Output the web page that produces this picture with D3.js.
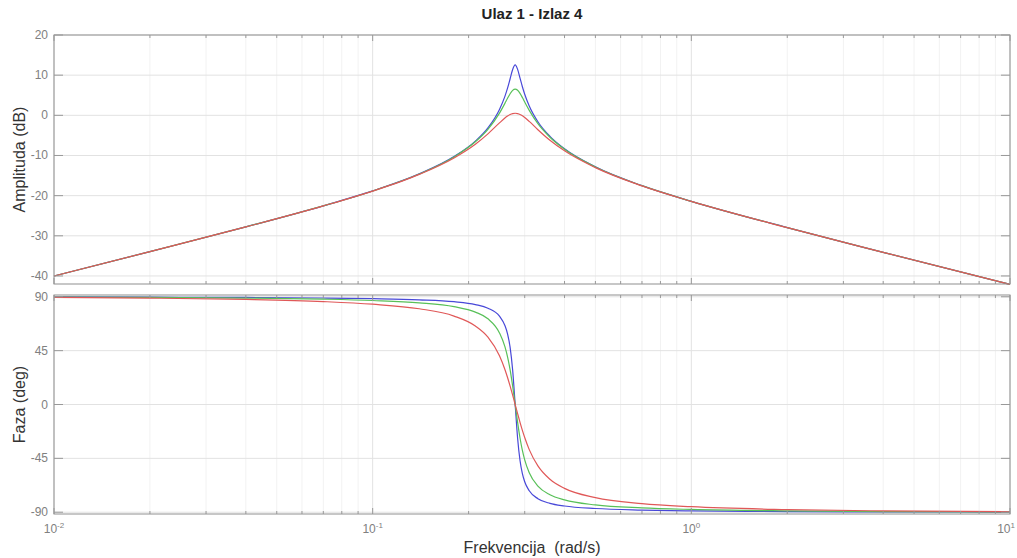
<!DOCTYPE html>
<html>
<head>
<meta charset="utf-8">
<script src="https://cdn.jsdelivr.net/npm/d3@7"></script>
<style>
  body { margin: 0; background: #fff; }
  text { font-family: "Liberation Sans", Arial, sans-serif; }
</style>
</head>
<body>
<div id="chart"></div>
<script>
// frequencies (rad/s)
const freq = [0.01, 0.02, 0.04, 0.07, 0.1, 0.14, 0.18, 0.21, 0.23, 0.25, 0.26, 0.265, 0.27, 0.275, 0.28,
  0.285, 0.29, 0.295, 0.3, 0.31, 0.33, 0.36, 0.4, 0.5, 0.7, 1, 2, 4, 10];

// amplitude (dB)
const magBlue = [-40.0, -33.94, -27.78, -22.54, -18.82, -14.58, -10.28, -6.43, -3.13, 1.47, 4.73, 6.77, 9.10, 11.42, 12.54,
  11.45, 9.27, 7.11, 5.25, 2.32, -1.60, -5.24, -8.34, -12.84, -17.51, -21.41, -27.96, -34.11, -42.11];
const magGreen = [-40.0, -33.94, -27.78, -22.55, -18.83, -14.61, -10.35, -6.59, -3.47, 0.55, 2.98, 4.23, 5.38, 6.22, 6.53,
  6.23, 5.45, 4.42, 3.32, 1.24, -2.07, -5.45, -8.45, -12.87, -17.52, -21.41, -27.96, -34.11, -42.11];
const magRed = [-40.0, -33.94, -27.79, -22.56, -18.87, -14.71, -10.61, -7.19, -4.61, -1.89, -0.68, -0.19, 0.20, 0.43, 0.51,
  0.43, 0.22, -0.12, -0.54, -1.52, -3.58, -6.21, -8.84, -13.02, -17.57, -21.43, -27.97, -34.11, -42.11];

// phase (deg)
const phBlue = [89.9, 89.7, 89.45, 89.0, 88.45, 87.5, 85.9, 83.5, 80.5, 73.8, 66.0, 59.1, 47.8, 28.6, 0,
  -28.2, -46.8, -57.7, -64.5, -72.1, -78.7, -82.6, -84.8, -86.9, -88.2, -88.9, -89.5, -89.7, -89.9];
const phGreen = [89.7, 89.5, 88.9, 88.0, 86.9, 85.0, 81.8, 77.2, 71.6, 59.8, 48.3, 39.8, 28.9, 15.3, 0,
  -15.0, -28.0, -38.4, -46.3, -57.1, -68.2, -75.4, -79.7, -83.9, -86.4, -87.7, -88.9, -89.5, -89.8];
const phRed = [89.5, 88.9, 87.8, 86.0, 83.8, 80.0, 73.9, 65.6, 56.3, 40.7, 29.3, 22.6, 15.4, 7.8, 0,
  -7.6, -14.9, -21.6, -27.6, -37.7, -51.3, -62.5, -70.1, -77.8, -82.8, -85.4, -87.8, -88.9, -89.6];

const magTicks = [20, 10, 0, -10, -20, -30, -40];
const phTicks = [90, 45, 0, -45, -90];
const decades = [-2, -1, 0, 1];

const colors = {blue: "#4848d8", green: "#58c058", red: "#e05858"};

const W = 1017, H = 558;
const left = 54, right = 1010;
const top1 = 35, bot1 = 284, top2 = 295, bot2 = 514;

const svg = d3.select("#chart").append("svg").attr("width", W).attr("height", H);

const x = d3.scaleLog().domain([0.01, 10]).range([left, right]);
const y1 = d3.scaleLinear().domain([-42, 20]).range([bot1, top1]);
const y2 = d3.scaleLinear().domain([-91.5, 91.5]).range([bot2, top2]);

// minor log ticks
let minor = [];
decades.slice(0, 3).forEach(e => {
  for (let k = 2; k <= 9; k++) minor.push(k * Math.pow(10, e));
});
const majors = decades.map(e => Math.pow(10, e));

function panel(y, yTicks, t, b, series, label) {
  const g = svg.append("g");
  // minor grid
  g.selectAll(".mg").data(minor).enter().append("line")
    .attr("x1", d => x(d)).attr("x2", d => x(d)).attr("y1", t).attr("y2", b)
    .style("stroke", "#f2f2f2").style("stroke-width", 1);
  // major grid
  g.selectAll(".vg").data(majors).enter().append("line")
    .attr("x1", d => x(d)).attr("x2", d => x(d)).attr("y1", t).attr("y2", b)
    .style("stroke", "#e2e2e2");
  g.selectAll(".hg").data(yTicks).enter().append("line")
    .attr("x1", left).attr("x2", right).attr("y1", d => y(d)).attr("y2", d => y(d))
    .style("stroke", "#e2e2e2");

  // curves
  const line = d3.line().curve(d3.curveMonotoneX);
  series.forEach(s => {
    g.append("path")
      .attr("d", line(freq.map((f, i) => [x(f), y(s.v[i])])))
      .style("fill", "none").style("stroke", s.c).style("stroke-width", 1.2);
  });

  // box
  g.append("rect").attr("x", left).attr("y", t).attr("width", right - left).attr("height", b - t)
    .style("fill", "none").style("stroke", "#8f8f8f").style("stroke-width", 1);

  // tick marks inside on all sides
  const allX = majors.concat(minor);
  allX.forEach(d => {
    const len = majors.includes(d) ? 6 : 3;
    g.append("line").attr("x1", x(d)).attr("x2", x(d)).attr("y1", b).attr("y2", b - len).style("stroke", "#999");
    g.append("line").attr("x1", x(d)).attr("x2", x(d)).attr("y1", t).attr("y2", t + len).style("stroke", "#999");
  });
  yTicks.forEach(d => {
    g.append("line").attr("x1", left).attr("x2", left + 9).attr("y1", y(d)).attr("y2", y(d)).style("stroke", "#999");
    g.append("line").attr("x1", right).attr("x2", right - 9).attr("y1", y(d)).attr("y2", y(d)).style("stroke", "#999");
  });

  // tick labels
  g.selectAll(".yl").data(yTicks).enter().append("text")
    .attr("x", left - 6).attr("y", d => y(d) + 4)
    .attr("text-anchor", "end").style("font-size", "12px").style("fill", "#808080")
    .text(d => d);

  // axis label
  g.append("text")
    .attr("transform", `translate(25,${(t + b) / 2}) rotate(-90)`)
    .attr("text-anchor", "middle").style("font-size", "16px").style("fill", "#333")
    .text(label);
}

panel(y1, magTicks, top1, bot1,
  [{v: magBlue, c: colors.blue}, {v: magGreen, c: colors.green}, {v: magRed, c: colors.red}], "Amplituda (dB)");
panel(y2, phTicks, top2, bot2,
  [{v: phBlue, c: colors.blue}, {v: phGreen, c: colors.green}, {v: phRed, c: colors.red}], "Faza (deg)");

// x tick labels 10^n (last one pulled in so it stays inside the page)
decades.forEach((e, i) => {
  const last = i === decades.length - 1;
  const t = svg.append("text")
    .attr("x", last ? W - 2 : x(Math.pow(10, e))).attr("y", 533)
    .attr("text-anchor", last ? "end" : "middle").style("font-size", "12px").style("fill", "#808080");
  t.append("tspan").text("10");
  t.append("tspan").attr("dy", -5).style("font-size", "8px").text(e);
});

svg.append("text").attr("x", (left + right) / 2).attr("y", 553)
  .attr("text-anchor", "middle").style("font-size", "16px").style("fill", "#333")
  .style("white-space", "pre")
  .text("Frekvencija  (rad/s)");

svg.append("text").attr("x", (left + right) / 2).attr("y", 19)
  .attr("text-anchor", "middle").style("font-size", "15px").style("font-weight", "bold").style("fill", "#222")
  .text("Ulaz 1 - Izlaz 4");
</script>
</body>
</html>
